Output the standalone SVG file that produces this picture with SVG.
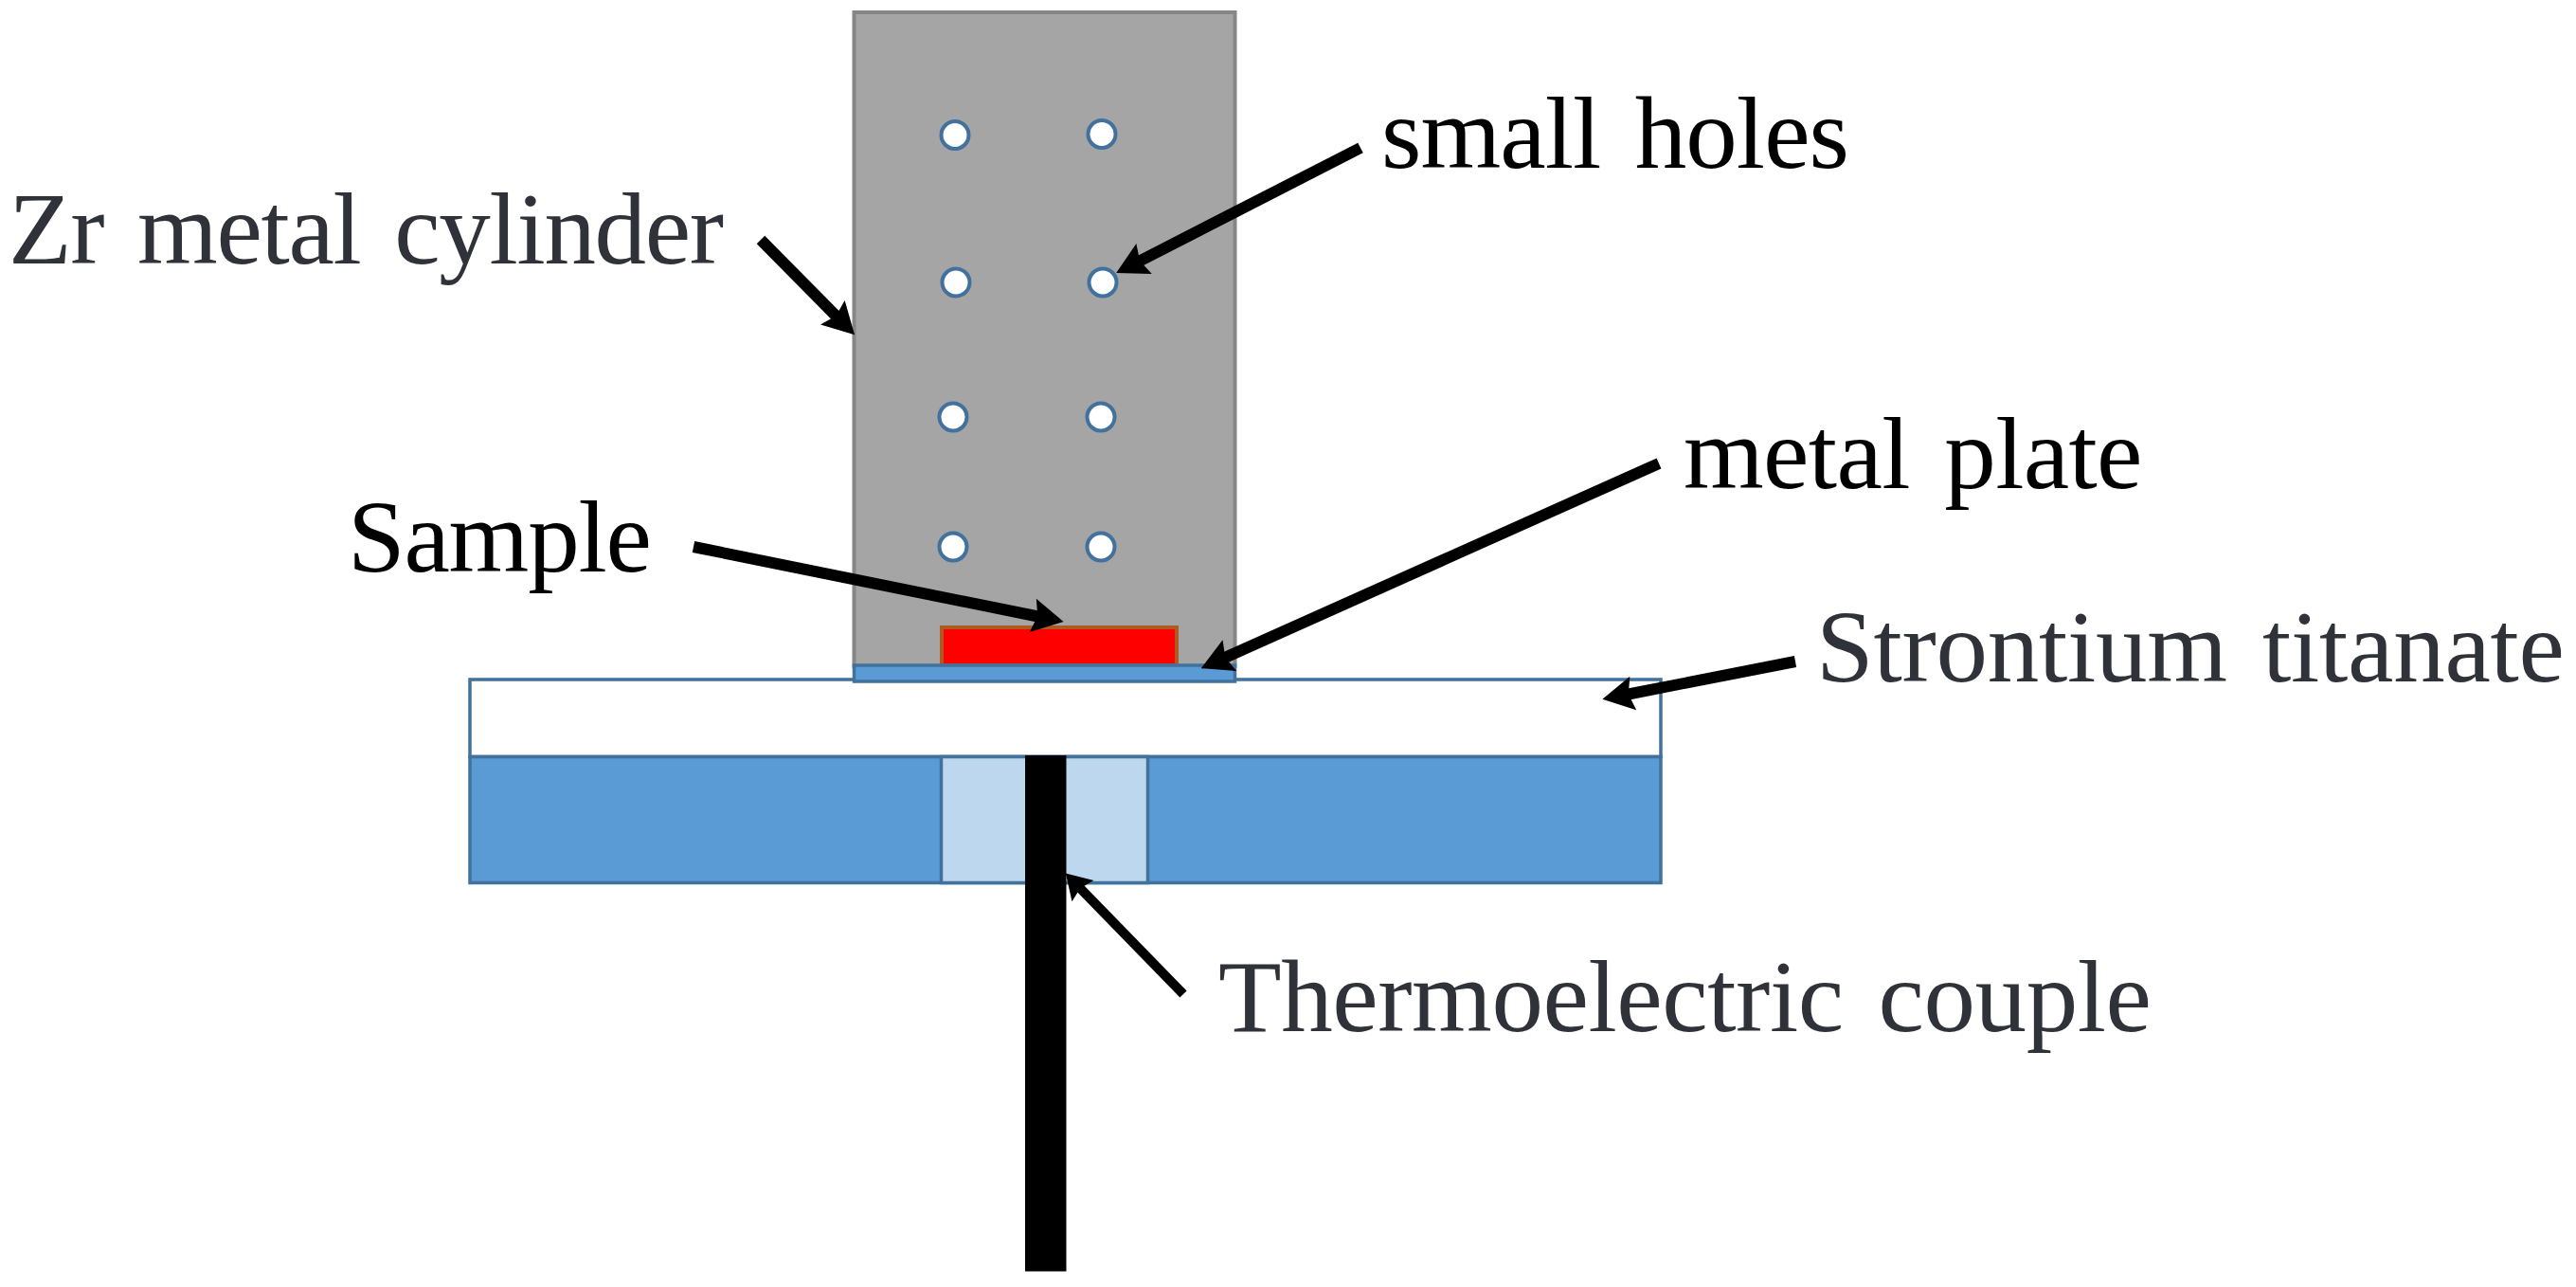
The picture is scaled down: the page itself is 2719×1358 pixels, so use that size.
<svg xmlns="http://www.w3.org/2000/svg" width="2719" height="1358" viewBox="0 0 2719 1358">
<defs>
<marker id="head" markerUnits="userSpaceOnUse" viewBox="-2 -24 40 48" refX="13" refY="0" markerWidth="40" markerHeight="48" orient="auto"><path d="M0,-18L33,0L0,18L5,0Z" fill="#000"/></marker>
<marker id="headS" markerUnits="userSpaceOnUse" viewBox="-2 -24 40 48" refX="10" refY="0" markerWidth="40" markerHeight="48" orient="auto"><path d="M0,-16L26,0L0,16L4,0Z" fill="#000"/></marker>
</defs>
<style>
text{font-family:"Liberation Serif","Times New Roman",serif;font-size:109px;word-spacing:10px}
.dark{fill:#2f3238}
.blk{fill:#000}
.hole{fill:#fff;stroke:#41719c;stroke-width:4}
.blue{fill:#5b9bd5;stroke:#41719c;stroke-width:3.5}
.arr{stroke:#000;stroke-width:12;fill:none;marker-end:url(#head)}
</style>
<rect width="2719" height="1358" fill="#fff"/>
<g id="cylinder"><rect x="901.5" y="13" width="402" height="690" fill="#a5a5a5" stroke="#868686" stroke-width="4"/></g>
<g id="holes">
<circle class="hole" cx="1008" cy="142.5" r="14.5"/><circle class="hole" cx="1163" cy="141.5" r="14.5"/>
<circle class="hole" cx="1009" cy="298" r="14.5"/><circle class="hole" cx="1164" cy="298" r="14.5"/>
<circle class="hole" cx="1006" cy="440" r="14.5"/><circle class="hole" cx="1162" cy="440" r="14.5"/>
<circle class="hole" cx="1006" cy="577" r="14.5"/><circle class="hole" cx="1162" cy="577" r="14.5"/>
</g>
<g id="titanate"><rect x="496" y="717" width="1257" height="81.500" fill="#fff" stroke="#41719c" stroke-width="3.500"/></g>
<g id="sample"><rect x="994" y="662" width="248" height="40" fill="#f00" stroke="#ae5a21" stroke-width="4"/></g>
<g id="plate"><rect class="blue" x="901.500" y="702" width="402" height="17"/></g>
<g id="base"><rect class="blue" x="496" y="798.500" width="1257" height="133"/></g>
<g id="window"><rect x="993.500" y="798.500" width="218" height="133" fill="#bdd7ee" stroke="#41719c" stroke-width="3.500"/></g>
<g id="thermocouple"><rect x="1082" y="797" width="43.500" height="544.500" fill="#000"/></g>
<g id="connectors">
<line class="arr" x1="1436" y1="156" x2="1196" y2="279"/>
<line class="arr" x1="803" y1="253" x2="888" y2="339"/>
<line class="arr" x1="732" y1="577" x2="1103" y2="652"/>
<line class="arr" x1="1751" y1="489" x2="1286" y2="697"/>
<line class="arr" x1="1895" y1="698" x2="1711" y2="734"/>
<line class="arr" style="marker-end:url(#headS);stroke-width:10" x1="1249" y1="1049" x2="1136" y2="933"/>
</g>
<g id="labels">
<text class="dark" x="9" y="278" textLength="755">Zr metal cylinder</text>
<text class="blk" x="367" y="603" textLength="321">Sample</text>
<text class="blk" x="1458" y="177" textLength="494">small holes</text>
<text class="blk" x="1777" y="515" textLength="484.500">metal plate</text>
<text class="dark" x="1917" y="719" textLength="790">Strontium titanate</text>
<text class="dark" x="1286" y="1088" textLength="985">Thermoelectric couple</text>
</g>
</svg>
